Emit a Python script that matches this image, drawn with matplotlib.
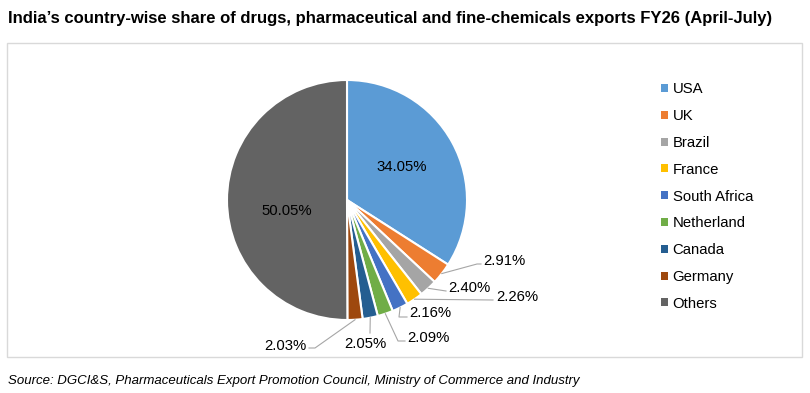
import matplotlib
matplotlib.use("Agg")
import matplotlib.pyplot as plt
from matplotlib.patches import Rectangle
import numpy as np

plt.rcParams['font.family'] = ['Liberation Sans', 'DejaVu Sans']

countries = ["USA", "UK", "Brazil", "France", "South Africa", "Netherland",
             "Canada", "Germany", "Others"]
shares = [34.05, 2.91, 2.40, 2.26, 2.16, 2.09, 2.05, 2.03, 50.05]
colors = ["#5B9BD5", "#ED7D31", "#A5A5A5", "#FFC000", "#4472C4", "#70AD47",
          "#255E91", "#9E480E", "#636363"]

title = "India\u2019s country-wise share of drugs, pharmaceutical and fine-chemicals exports FY26 (April-July)"
source = "Source: DGCI&S, Pharmaceuticals Export Promotion Council, Ministry of Commerce and Industry"

W, H = 810, 393
CX, CY, R = 347, 200, 120   # pie centre and radius in pixels


def px(x, y):
    return (x - CX) / R, (CY - y) / R


# label placement in pixels: text x, text y, alignment, leader elbow points
label_layout = [
    (402, 167, "center", []),
    (483, 261, "left", [(477, 264), (481, 264)]),
    (448, 288, "left", [(446, 291)]),
    (496, 297, "left", [(493, 300)]),
    (409, 313, "left", [(399, 317), (407, 317)]),
    (407, 338, "left", [(398, 341), (405, 341)]),
    (365, 344, "center", [(370, 333)]),
    (306, 346, "right", [(315, 348), (309, 348)]),
    (287, 211, "center", []),
]

fig = plt.figure(figsize=(W / 100, H / 100), dpi=100)
ax = fig.add_axes([0, 0, 1, 1])

wedges, _ = ax.pie(shares, colors=colors, startangle=90, counterclock=False,
                   radius=1, wedgeprops=dict(edgecolor="white", linewidth=1.5))
ax.set_xlim(-CX / R, (W - CX) / R)
ax.set_ylim((CY - H) / R, CY / R)
ax.axis("off")

for w, val, (tx, ty, ha, elbows) in zip(wedges, shares, label_layout):
    x, y = px(tx, ty)
    ax.text(x, y, f"{val:.2f}%", ha=ha, va="center", fontsize=10.7, color="#000000")
    if elbows:
        ang = np.deg2rad((w.theta1 + w.theta2) / 2)
        pts = [(np.cos(ang), np.sin(ang))] + [px(*p) for p in elbows]
        xs, ys = zip(*pts)
        ax.plot(xs, ys, color="#A6A6A6", lw=0.8, clip_on=False)

leg = ax.legend(wedges, countries, loc="upper left",
                bbox_to_anchor=(654 / W, 1 - 75 / H), bbox_transform=fig.transFigure,
                frameon=False, fontsize=10.7, handlelength=0.45, handleheight=0.45,
                handletextpad=0.3, labelspacing=0.86, borderpad=0)
for h in leg.legend_handles:
    h.set_edgecolor("none")

fig.patches.append(Rectangle((7 / W, 1 - 357 / H), 795 / W, 314 / H,
                             transform=fig.transFigure, fill=False,
                             edgecolor="#D9D9D9", lw=1))

fig.text(8 / W, 1 - 18 / H, title, ha="left", va="center", fontsize=12,
         fontweight="bold")
fig.text(8 / W, 1 - 381 / H, source, ha="left", va="center", fontsize=9.5,
         style="italic")

fig.savefig("out.png", dpi=100)
